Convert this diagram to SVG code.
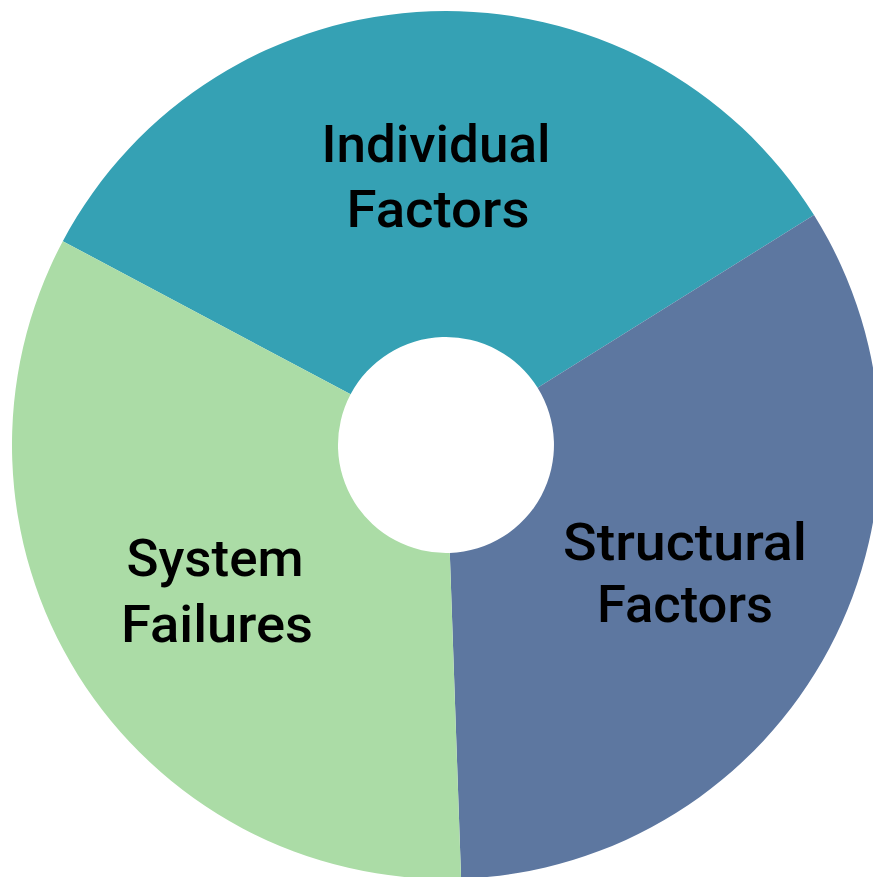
<svg xmlns="http://www.w3.org/2000/svg" width="873" height="877" viewBox="0 0 873 877">
<style>
.lbl{font-family:Roboto,"Liberation Sans",sans-serif;font-size:52px;font-weight:500;fill:#000;text-anchor:middle;}
</style>
<rect width="873" height="877" fill="#fff"/>
<g id="individual-factors">
<path d="M62.8 241.2 A434 434 0 0 1 814.0 215.0 L537.6 387.8 A108 108 0 0 0 350.6 394.3 Z" fill="#35A1B4"/>
<text class="lbl" x="436" y="162" textLength="229" lengthAdjust="spacingAndGlyphs">Individual</text>
<text class="lbl" x="438" y="227" textLength="183" lengthAdjust="spacingAndGlyphs">Factors</text>
</g>
<g id="structural-factors">
<path d="M814.0 215.0 A434 434 0 0 1 461.1 878.7 L449.8 552.9 A108 108 0 0 0 537.6 387.8 Z" fill="#5D77A0"/>
<text class="lbl" x="685" y="560" textLength="244" lengthAdjust="spacingAndGlyphs">Structural</text>
<text class="lbl" x="685" y="622" textLength="176" lengthAdjust="spacingAndGlyphs">Factors</text>
</g>
<g id="system-failures">
<path d="M461.1 878.7 A434 434 0 0 1 62.8 241.2 L350.6 394.3 A108 108 0 0 0 449.8 552.9 Z" fill="#ABDCA6"/>
<text class="lbl" x="215" y="576" textLength="177" lengthAdjust="spacingAndGlyphs">System</text>
<text class="lbl" x="217" y="642" textLength="192" lengthAdjust="spacingAndGlyphs">Failures</text>
</g>
</svg>
